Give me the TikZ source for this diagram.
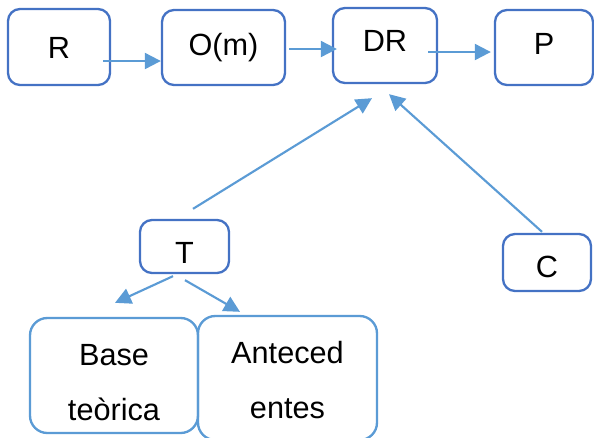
\documentclass[tikz,border=0pt]{standalone}
\usepackage{fontspec}
\setmainfont{Liberation Sans}
\usetikzlibrary{arrows.meta}

\definecolor{boxblue}{RGB}{68,114,196}
\definecolor{lineblue}{RGB}{91,155,213}

\tikzset{
  box/.style={draw=boxblue, line width=1.75pt, rounded corners=9pt, inner sep=0pt,
    font=\fontsize{23}{41.25}\selectfont, text height=16.5pt, text depth=0pt},
  bigbox/.style={draw=lineblue, line width=1.75pt, rounded corners=13pt, inner sep=0pt,
    font=\fontsize{23}{41.25}\selectfont, align=center},
  arr/.style={draw=lineblue, line width=1.6pt, -{Triangle[length=12pt,width=12pt]}, lineblue}
}

\begin{document}
\begin{tikzpicture}[x=0.75pt,y=0.75pt,yscale=-1,xscale=1]
\useasboundingbox (0,0) rectangle (594,437);

% top row
\node [box, minimum width=76.5pt, minimum height=57pt] (R) at (59,47) {R};
\node [box, minimum width=92.25pt, minimum height=56.25pt, text depth=5pt] (Om) at (223.5,47.5) {O(m)};
\node [box, minimum width=78pt, minimum height=56.25pt, text depth=8.25pt] (DR) at (385,45.5) {DR};
\node [box, minimum width=73.5pt, minimum height=56.25pt, text depth=6.75pt] (P) at (544,47.5) {P};

% middle
\node [box, minimum width=66.75pt, minimum height=39.75pt, text height=24.75pt] (T) at (184.5,246.5) {T};
\node [box, minimum width=66pt, minimum height=42.75pt, text height=22.5pt] (C) at (547,262.5) {C};

% bottom
\node [bigbox, minimum width=126pt, minimum height=86.25pt] (Base) at (114,375.5) {\rule{0pt}{26pt}Base\\teòrica};
\node [bigbox, minimum width=134.25pt, minimum height=93pt] (Ant) at (287.5,378) {\rule{0pt}{20pt}Anteced\\entes};

% connectors
\draw [arr] ([shift={(-8,14)}]R.east) -- ([shift={(0,13.5)}]Om.west);
\draw [arr] ([shift={(3,1.5)}]Om.east) -- ([shift={(5,3.5)}]DR.west);
\draw [arr] ([shift={(-10,6.5)}]DR.east) -- ([shift={(-3,4.5)}]P.west);
\draw [arr] ([shift={(8.5,-10)}]T.north) -- ([shift={(-13,14)}]DR.south);
\draw [arr] ([shift={(-5,-1)}]C.north) -- ([shift={(4,10)}]DR.south);
\draw [arr] ([shift={(-11.5,2)}]T.south) -- ([shift={(1,-14)}]Base.north);
\draw [arr] ([shift={(0.5,6)}]T.south) -- ([shift={(-47.5,-3)}]Ant.north);

\end{tikzpicture}
\end{document}
